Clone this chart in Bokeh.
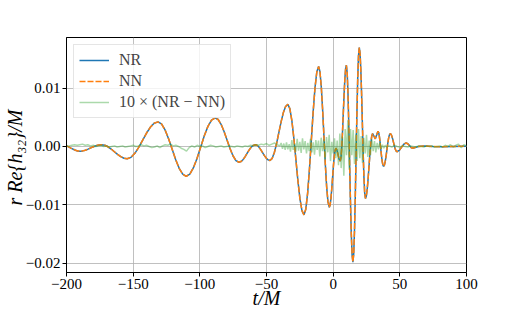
from bokeh.plotting import figure
from bokeh.models import FixedTicker, Legend, LegendItem, Range1d
from bokeh.embed import file_html
from bokeh.resources import INLINE

# ---- data (strain values) ----
nr_t = [-200, -198.4, -196.7, -194.9, -193.3, -191.6,
        -189.9, -187.875, -185.85, -183.825, -181.8, -179.775, -177.75, -175.725,
        -173.7, -171.3, -168.9, -166.5, -164.1, -161.7, -159.3, -156.9,
        -154.5, -151.61, -148.73, -145.84, -142.95, -140.06, -137.18, -134.29,
        -131.4, -128.75, -126.1, -123.45, -120.8, -118.15, -115.5, -112.85,
        -110.2, -107.49, -104.78, -102.06, -99.35, -96.64, -93.93, -91.21,
        -88.5, -86.275, -84.05, -81.825, -79.6, -77.375, -75.15, -72.925,
        -70.7, -69.175, -67.65, -66.125, -64.6, -63.075, -61.55, -60.025,
        -58.5, -57.11, -55.73, -54.34, -52.95, -51.56, -50.18, -48.79,
        -47.4, -45.725, -44.05, -42.375, -40.7, -39.025, -37.35, -35.675,
        -34.0, -32.49, -30.98, -29.46, -27.95, -26.44, -24.93, -23.41,
        -21.9, -20.525, -19.15, -17.775, -16.4, -15.025, -13.65, -12.275,
        -10.9, -9.9, -8.9, -7.9, -6.9, -5.9, -4.9, -3.9,
        -2.9, -2.2875, -1.675, -1.0625, -0.45, 0.1625, 0.775, 1.3875,
        2.0, 2.825, 3.65, 4.475,
        5.3, 5.875, 6.45, 7.025, 7.6, 8.175, 8.75, 9.325,
        9.9, 10.5125, 11.125, 11.7375, 12.35, 12.9625, 13.575, 14.1875,
        14.8, 15.4, 16.0, 16.6, 17.2, 17.8, 18.4, 19.0,
        19.6, 20.175, 20.75, 21.325, 21.9, 22.475, 23.05, 23.625,
        24.2, 24.875, 25.55, 26.225, 26.9, 27.575, 28.25, 28.925,
        29.6, 30.6, 31.6, 32.6,
        33.6, 34.125, 34.65, 35.175, 35.7, 36.225, 36.75, 37.275,
        37.8, 38.425, 39.05, 39.675, 40.3, 40.925, 41.55, 42.175,
        42.8, 43.425, 44.05, 44.675, 45.3, 45.925, 46.55, 47.175,
        47.8, 49.525, 51.25, 52.975,
        54.7, 55.95, 57.2, 58.45,
        59.7, 62, 64, 68, 75, 82, 90, 100]
nr_v = [0.00009, -0.000074, -0.000275, -0.000476, -0.000646, -0.00076,
        -0.0008, -0.000758, -0.000639, -0.000461, -0.00025, -0.000039, 0.000139, 0.000258,
        0.0003, 0.000209, -0.000052, -0.00044, -0.0009, -0.00136, -0.001748, -0.002009,
        -0.0021, -0.001861, -0.001177, -0.000156, 0.00105, 0.002256, 0.003277, 0.003961,
        0.0042, 0.003847, 0.002838, 0.001331, -0.00045, -0.002231, -0.003738, -0.004747,
        -0.0051, -0.00472, -0.003635, -0.002015, -0.0001, 0.001815, 0.003435, 0.00452,
        0.0049, 0.004611, 0.003787, 0.002555, 0.0011, -0.000355, -0.001587, -0.002411,
        -0.0027, -0.002586, -0.002261, -0.001775, -0.0012, -0.000625, -0.000139, 0.000186,
        0.0003, 0.000197, -0.000096, -0.000533, -0.00105, -0.001567, -0.002004, -0.002297,
        -0.0024, -0.002035, -0.000994, 0.000562, 0.0024, 0.004238, 0.005794, 0.006835,
        0.0072, 0.006482, 0.004431, 0.001369, -0.00225, -0.005869, -0.008931, -0.010982,
        -0.0117, -0.010735, -0.007979, -0.003864, 0.001, 0.005864, 0.009979, 0.012735,
        0.0137, 0.012784, 0.010169, 0.006265, 0.00165, -0.002965, -0.006869, -0.009484,
        -0.0104, -0.010016, -0.00892, -0.007284, -0.00535, -0.003416, -0.00178, -0.000684,
        -0.0003, -0.000622, -0.0014, -0.002178,
        -0.0025, -0.001877, -0.000097, 0.002559, 0.0057, 0.008841, 0.011497, 0.013277,
        0.0139, 0.012619, 0.008963, 0.003504, -0.00295, -0.009404, -0.014863, -0.018519,
        -0.0198, -0.018405, -0.014423, -0.008478, -0.00145, 0.005578, 0.011523, 0.015505,
        0.0169, 0.01592, 0.01312, 0.008941, 0.004, -0.000941, -0.00512, -0.00792,
        -0.0089, -0.008478, -0.007274, -0.005476, -0.00335, -0.001224, 0.000574, 0.001778,
        0.0022, 0.00175, 0.0013, 0.00195,
        0.0026, 0.002372, 0.001721, 0.000749, -0.0004, -0.001549, -0.002521, -0.003172,
        -0.0034, -0.003187, -0.00258, -0.001672, -0.0006, 0.000472, 0.00138, 0.001987,
        0.0022, 0.002082, 0.001746, 0.001244, 0.00065, 0.000056, -0.000446, -0.000782,
        -0.0009, -0.00068, -0.00015, 0.00038,
        0.0006, 0.000468, 0.00015, -0.000168,
        -0.0003, -0.00015, 0.0, 0.0001, 0.0, -0.00005, 0.0, 0.00005]
# NN prediction: indistinguishable from NR in the picture
nn_t = list(nr_t)
nn_v = list(nr_v)

# 10 x (NR - NN), sampled every 2 (outer) / 1 (merger) time units, in units of 1e-4
diff_t = list(range(-200, -40, 2)) + list(range(-40, 41)) + list(range(42, 101, 2))
diff_1e4 = [0, 1, 2, 3, 2, 3, 4, 2, 3, 1,
            2, 0, 1, 2, 0, 1, -1, 0, 1, -1,
            0, 1, -1, 0, 1, 2, 0, 1, 3, 1,
            2, 0, -2, -1, 1, -2, 1, 3, 2, 4,
            1, 2, 0, -3, -5, -8, -2, 1, -1, 2,
            0, 1, -2, 0, 2, 1, -1, 0, 1, -1,
            0, 1, 0, -1, 1, 0, -1, 1, 0, 2,
            1, 3, 2, 4, 3, 5, 2, 4, 6, 3,
            # -40 .. 40
            1, 6, -4, 5, -6, 7, -5, 4, -9, 11,
            -6, 5, -9, 13, -7, 8, -11, 14, -5, 9,
            -12, 6, -8, 13, -10, 7, -14, 11, -6, 10,
            -17, 15, -8, 12, -22, 16, -10, 20, -25, 8,
            -12, 14, -20, 10, -32, 22, -37, 17, -50, 30,
            -15, 45, -40, 30, -15, 28, -30, 22, -25, 30,
            -20, 18, -28, 15, -12, 20, -18, 10, -15, 12,
            -8, 9, -10, 6, -5, 7, -4, 3, -3, 2,
            -1,
            # 42 .. 100
            1, -1, 2, 0, -1, 1, 0, -1, 1, 0,
            -1, 1, 0, -1, 1, 0, 1, -1, 0, 1,
            -1, 2, 0, 3, -1, 2, 4, -2, 3, 1]
diff_v = [d * 1e-4 for d in diff_1e4]

x_ticks = [-200, -150, -100, -50, 0, 50, 100]
x_tick_labels = ["−200", "−150", "−100", "−50", "0", "50", "100"]
y_ticks = [-0.02, -0.01, 0, 0.01]
y_tick_labels = ["−0.02", "−0.01", "0.00", "0.01"]
series_labels = ["NR", "NN", "10 × (NR − NN)"]
x_label = "t/M"
y_label = "r  Re{h₃₂}/M"

FONT = "Liberation Serif"

p = figure(width=518, height=311,
           x_range=Range1d(-200, 100), y_range=Range1d(-0.02156, 0.01864),
           output_backend="svg", toolbar_location=None,
           min_border_left=64, min_border_right=52,
           min_border_top=37, min_border_bottom=39)
p.background_fill_color = "white"
p.border_fill_color = "white"
p.outline_line_color = "black"
p.outline_line_width = 1

r_nr = p.line(nr_t, nr_v, line_color="#1f77b4", line_width=1.5)
r_nn = p.line(nn_t, nn_v, line_color="#ff7f0e", line_width=1.5, line_dash="6 2")
r_df = p.line(diff_t, diff_v, line_color="#2ca02c", line_width=1.5, line_alpha=0.4)

p.xaxis.ticker = FixedTicker(ticks=x_ticks)
p.xaxis.major_label_overrides = dict(zip(x_ticks, x_tick_labels))
p.yaxis.ticker = FixedTicker(ticks=y_ticks)
p.yaxis.major_label_overrides = dict(zip(y_ticks, y_tick_labels))
p.xaxis.axis_label = x_label
p.yaxis.axis_label = y_label

for ax in (p.xaxis[0], p.yaxis[0]):
    ax.axis_line_color = "black"
    ax.axis_line_width = 1
    ax.major_tick_out = 4
    ax.major_tick_in = 0
    ax.major_tick_line_color = "black"
    ax.minor_tick_line_color = None
    ax.major_label_text_font = FONT
    ax.major_label_text_font_size = "15px"
    ax.major_label_text_color = "black"
    ax.major_label_standoff = 2
    ax.axis_label_text_font = FONT
    ax.axis_label_text_font_style = "italic"
    ax.axis_label_text_font_size = "20px"
    ax.axis_label_text_color = "black"
p.xaxis.axis_label_standoff = -5
p.yaxis.axis_label_standoff = -3

p.grid.grid_line_color = "#b0b0b0"
p.grid.grid_line_width = 0.8

legend = Legend(items=[LegendItem(label=series_labels[0], renderers=[r_nr]),
                       LegendItem(label=series_labels[1], renderers=[r_nn]),
                       LegendItem(label=series_labels[2], renderers=[r_df])],
                location="top_left", margin=7, padding=5, spacing=1,
                glyph_width=30, glyph_height=20, label_height=20, label_standoff=10,
                label_text_font=FONT, label_text_font_size="16px",
                border_line_color="#cccccc", border_line_width=1,
                background_fill_alpha=0.8)
p.add_layout(legend)

open("out.html", "w").write(file_html(p, INLINE))
